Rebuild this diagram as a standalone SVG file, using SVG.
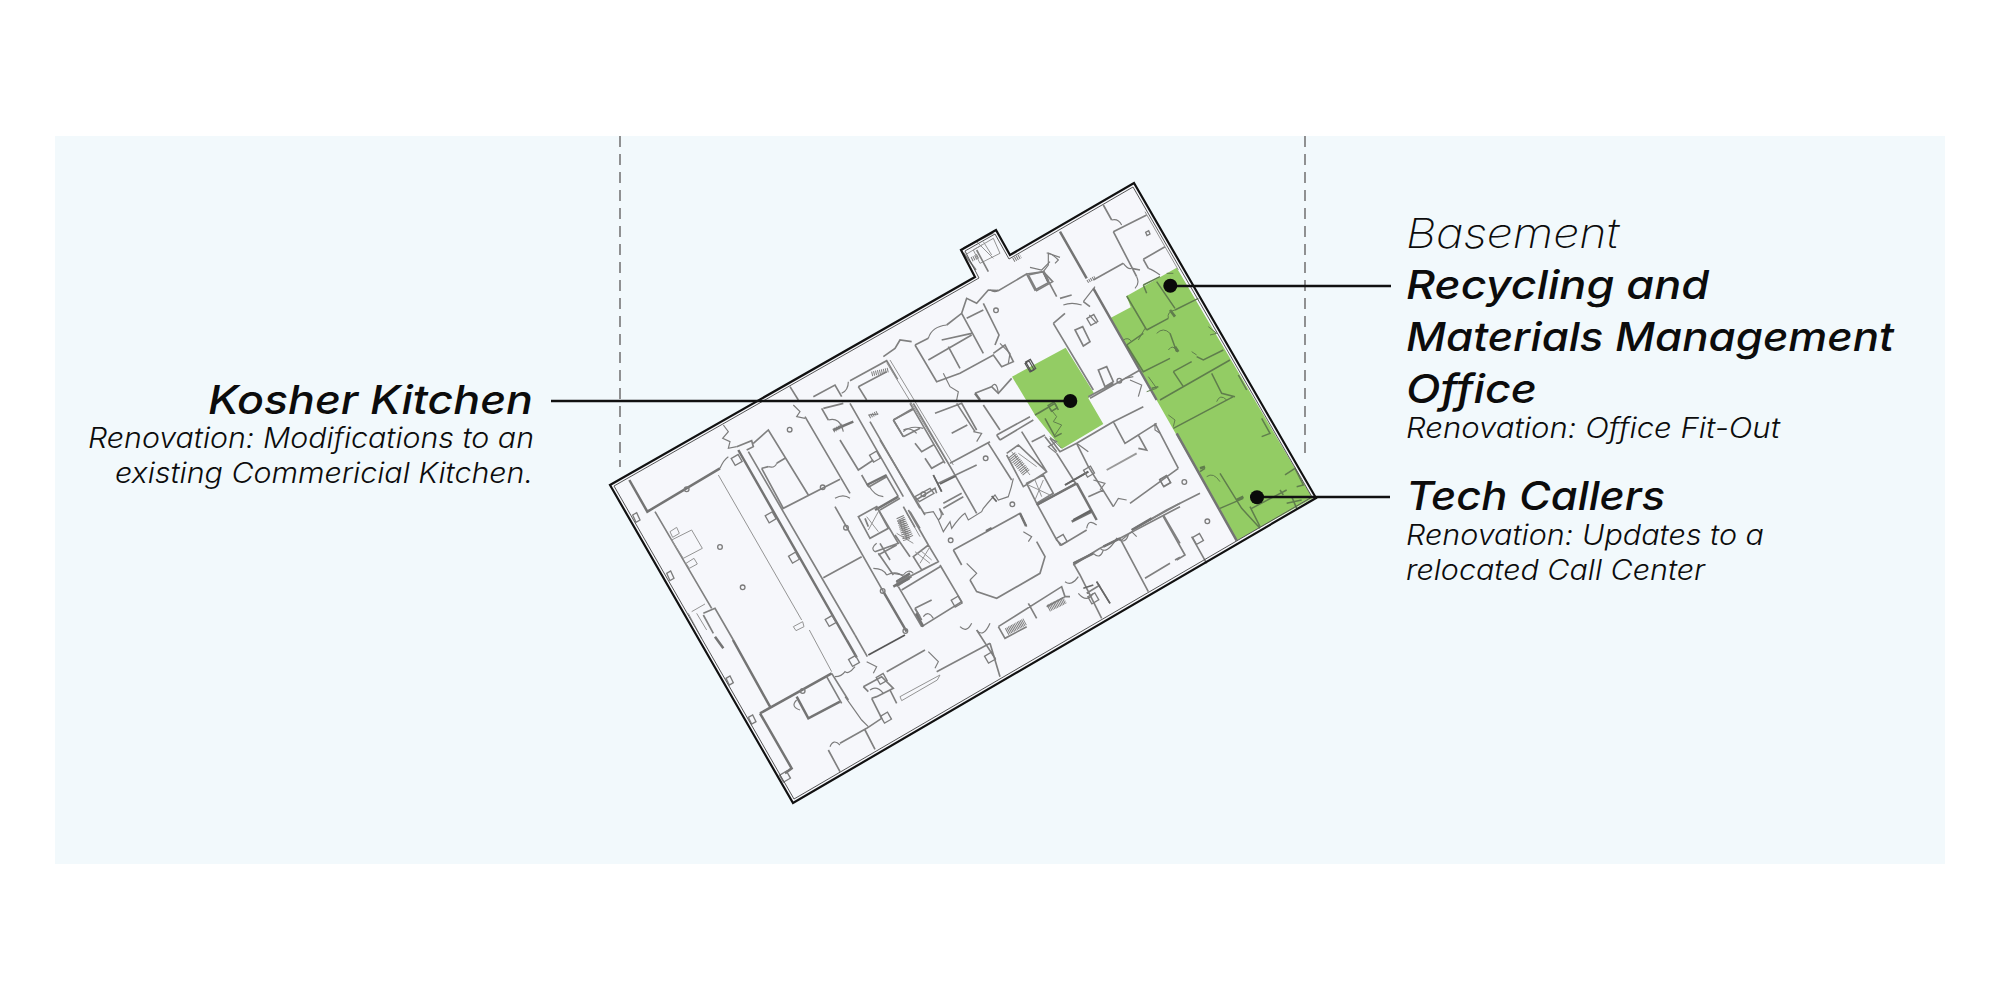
<svg xmlns="http://www.w3.org/2000/svg" width="2000" height="1000" viewBox="0 0 2000 1000">
<style>
.w{fill:none;stroke:#808080;stroke-width:5}
.k{fill:none;stroke:#747474;stroke-width:7.5}
.n{fill:none;stroke:#949494;stroke-width:3}
.d{fill:none;stroke:#7c7c7c;stroke-width:3.5}
.g{fill:none;stroke:#5f7d4c;stroke-width:4.5}
.h{fill:none;stroke:#7c7c7c;stroke-width:22;stroke-dasharray:3 3}
.b{fill:none;stroke:#555;stroke-width:5}
.m{fill:none;stroke:#7c7c7c;stroke-width:4}
.t{font-family:Inter,"Liberation Sans",sans-serif;font-style:italic;fill:#0c0c0c}
.h1{font-size:40px;font-weight:550}
.h2{font-size:28px;font-weight:300}
.h0{font-size:41px;font-weight:250}
.ldr{fill:none;stroke:#111;stroke-width:2.6}
.dot{fill:#0a0a0a}
.dash{fill:none;stroke:#777;stroke-width:1.6;stroke-dasharray:11 7}
</style>
<defs>
<circle id="c" r="7" class="m"/>
<rect id="s" x="-12" y="-12" width="24" height="24" transform="rotate(-30)" class="m"/>
</defs>
<rect id="panel" x="55" y="136" width="1890" height="728" fill="#f2f9fc"/>
<path class="dash" d="M620,136V467M1305,136V460"/>

<g id="plan">
<path id="floor" d="M610,485 L975,277 L961,250 L996,230 L1010,255 L1134,183 L1316,498 L793,803 Z" fill="#f6f7fb"/>
<g id="green-areas" fill="#93cc64" transform="translate(1000,170) scale(.33333)">
<path d="M530,293 L938,985 L710,1112 L330,445 L392,412 L380,378 Z"/>
<path d="M36,620 L197,533 L282,670 L265,685 L310,762 L186,836 L105,735 Z"/>
</g>

<!-- upper left part of the plan -->
<g transform="translate(600,170) scale(.33333)">
<path class="w" d="M750,632 L860,572 L893,628 M775,650 L800,690 M775,650 L860,605 M850,560 L885,535 L900,510 L935,515 M945,525 L985,505 M1040,465 L1085,430 L1100,385 L1130,400 L1165,360 L1195,362 L1280,312 L1305,360 L1345,338 L1330,305 L1280,312 M1150,400 L1197,495 L1185,525 M1085,430 L1150,550 M1100,445 L1150,420 M1025,510 L1115,490 M985,570 L1115,495 M1045,530 L1080,595 M945,525 L1010,635 L1080,610 L1180,555 L1205,590 L1240,575 L1215,525 L1180,550 M1125,670 L1175,650 L1195,670 L1235,625 M640,680 L705,645 L725,680 M570,650 L595,690"/>
<path class="d" d="M985,505 Q995,470 1040,465 M1030,610 L1050,650 L1075,665 L1070,690 M1330,305 L1345,285 L1345,250 L1380,262 M1170,360 Q1185,370 1195,360 M1175,650 Q1190,630 1195,670 M1200,520 L1230,550 L1225,580 M725,670 Q745,660 745,635"/>
<path class="k" d="M1330,305 L1345,335 M1125,670 L1140,690"/>
<path class="n" d="M860,578 L1050,890 M870,570 L1060,885 M1120,240 L1180,205 L1200,250 L1140,280 Z M1130,215 L1180,265 M1150,215 L1175,255 M1100,252 L1145,225"/>
<path class="w" d="M1090,235 L1180,188 M1090,248 L1128,300 M1130,240 L1165,305"/>
<path class="h" style="stroke-width:14" d="M1115,268 L1135,258 M1240,270 L1262,258 M815,612 L865,600"/>
<rect x="1282" y="574" width="14" height="30" class="b" style="stroke-width:3.5" transform="rotate(-30 1290 590)"/>
<use href="#c" x="1188" y="421"/>
</g>

<!-- upper right, mostly green wing -->
<g transform="translate(1000,170) scale(.33333)">
<path class="w" d="M310,105 L335,150 M340,185 L440,135 M340,185 L410,320 M430,268 L495,230 M430,268 L445,295 M280,330 L370,280 M395,295 L420,300"/>
<path class="d" d="M335,150 Q355,145 365,165 M370,280 Q385,300 395,295 M445,295 Q460,300 480,315 M410,320 Q420,340 405,355 M140,250 Q150,245 175,270 L165,280 M90,292 L125,300 L150,275"/>
<path class="k" d="M180,185 L260,325 M280,355 L470,690 M530,790 L710,1112"/>
<path class="n" d="M435,125 L535,300"/>
<path class="m" d="M437,187 L446,182 L450,192 L441,197 Z"/>
<path class="w" d="M85,315 L110,362 L158,335 L130,305 L85,315 M130,305 L170,380 M160,460 L195,430 M160,460 L280,660 M265,680 L340,640 M270,685 L420,600 M225,480 L248,470 L270,515 L250,528 Z M295,600 L320,590 L340,635 L315,650 Z M180,385 L215,375 M250,395 L270,410"/>
<path class="d" d="M190,405 Q215,395 245,405 M250,395 L285,350 M268,435 L290,460 M390,630 L425,645 L415,680 M375,625 L400,620"/>
<path class="h" style="stroke-width:10" d="M262,335 L285,322"/>
<use href="#s" x="277" y="450"/>
<use href="#c" x="358" y="632"/>
<path class="g" d="M380,378 L440,480 M430,345 L480,320 M470,335 L525,415 M440,480 L505,445 M525,420 L595,385 M380,525 L430,490 M380,525 L430,605 L510,565 M510,490 L530,545 M520,605 L550,650 M520,605 L575,575 M590,560 L610,570 L670,540 M480,690 L690,570 M635,610 L665,670 L705,680 M520,775 L700,680 M455,655 L475,650 M715,615 L740,660 M785,745 L810,790 L785,800 M600,905 L615,895 M660,910 L725,1015 L780,1075 M660,1015 L730,985 M750,1010 L780,1070 M755,1015 L860,960 M855,915 L885,895 L910,945 L890,950 M875,980 L890,1015 M840,960 L850,975 M860,1000 L905,990 M430,345 L440,370"/>
<path class="g" style="stroke-width:3" d="M505,445 Q500,425 525,420 M370,510 Q385,500 395,515 M415,510 L435,475 M470,490 Q490,470 510,490 M505,540 Q520,520 530,545 M575,545 L590,555 M625,470 L650,490 L630,495 M505,735 L525,750 L520,770 M620,920 Q640,905 660,935 M650,695 Q660,670 680,690 M500,310 L520,310 M445,620 L470,655 L440,665"/>
<path class="g" style="stroke-width:8" d="M510,420 L525,440 M525,530 L535,545 M600,895 L615,890 M710,990 L730,980"/>
<!-- kosher kitchen walls -->
<path class="g" d="M105,735 L165,700 M115,730 L165,700 M135,745 L165,800 L185,790 M165,700 L175,720"/>
<path class="g" style="stroke-width:3" d="M150,715 L170,740 L160,755 L185,765 L165,795 M150,800 L185,835"/>
<rect x="148" y="700" width="20" height="20" class="g" transform="rotate(-30 158 710)"/>
<rect x="84" y="570" width="16" height="32" class="b" style="stroke-width:4" transform="rotate(-30 92 586)"/>
<use href="#c" x="553" y="936"/>
<use href="#c" x="622" y="1054"/>
<use href="#s" x="496" y="934"/>
<use href="#s" x="594" y="1107"/>
<path class="w" d="M220,1185 L300,1135 M360,1105 L540,1010 M490,1040 L555,1155 L530,1170 M575,1100 L620,1180 M405,1075 L500,1020 M500,1020 L600,970"/>
<path class="d" d="M300,1135 Q320,1155 350,1105 Q375,1125 385,1095"/>
</g>

<!-- left wing -->
<g transform="translate(620,400) scale(.33333)">
<path class="k" d="M28,240 L82,335 L300,205 M355,150 L680,720"/>
<path class="w" d="M350,140 L395,122 L400,140 L380,150 M400,130 L445,90 L565,285 M385,155 L705,705 M425,205 L445,200 M425,205 L490,325 L660,238 M470,190 L495,175 M610,533 L725,470 M555,50 L690,280 M645,320 L790,575 M105,335 L275,625 M610,25 L670,10 M605,25 L625,60 M660,120 L715,210 L760,180 M690,10 L850,290 M750,65 L900,325 M725,225 L745,260 M745,262 L800,230 L835,290 M775,465 L830,435 M775,460 L820,525 M830,560 L875,530 M820,60 L880,25 M820,60 L850,110 M850,110 L900,85 M885,625 L900,650 M770,320 L835,430 L765,455 M250,640 L285,625 L340,720 M250,645 L280,700"/>
<path class="k" d="M640,90 L700,65 M790,575 L860,695 M740,255 L800,225 M830,545 L870,520 M765,330 L835,290 M820,560 L870,530"/>
<path class="n" d="M295,225 L545,660 M155,420 L215,390 L247,445 L190,475 Z M150,395 L170,382 L178,400 L158,412 Z M198,490 L222,475 L232,492 L208,505 Z M215,635 L255,612 M205,640 L245,715 M230,640 L260,690 M520,680 L548,665 L552,680 L528,692 Z"/>
<path class="d" d="M300,205 Q310,180 325,170 M310,75 L325,95 L308,115 L330,125 L325,145 L350,140 M445,200 Q465,205 470,190 M520,15 L540,35 L530,50 L555,55 M645,295 Q670,280 690,295 M625,60 Q660,50 670,95 M745,45 L775,42 M765,455 Q750,445 770,430 M760,505 Q790,505 800,525 M800,525 Q830,510 850,530 M850,90 Q870,80 890,100 M745,255 Q765,290 790,290"/>
<path class="h" style="stroke-width:12" d="M640,92 L668,76 M748,50 L772,38 M830,548 L862,530"/>
<path class="w" d="M715,350 L770,320 L805,385 L750,415 Z M735,355 L745,380"/>
<path class="n" d="M740,350 L775,395 M775,335 L745,390"/>
<path class="h" d="M842,360 L860,420"/>
<path class="n" d="M860,340 L900,410 M830,400 L880,430"/>
<path class="w" d="M850,320 L885,382 M870,335 L900,385"/>
<use href="#c" x="509" y="89"/><use href="#c" x="608" y="262"/><use href="#c" x="200" y="268"/><use href="#c" x="300" y="441"/><use href="#c" x="368" y="562"/><use href="#c" x="678" y="383"/><use href="#c" x="788" y="573"/><use href="#c" x="856" y="693"/>
<use href="#s" x="452" y="352"/><use href="#s" x="522" y="473"/><use href="#s" x="632" y="663"/><use href="#s" x="350" y="180"/><use href="#s" x="765" y="170"/>
<path class="m" d="M38,345 L50,338 L60,360 L48,367 Z M140,520 L152,513 L162,535 L150,542 Z"/>
</g>

<!-- central part -->
<g transform="translate(880,400) scale(.33333)">
<path class="w" d="M40,60 L100,28 M40,60 L70,110 M100,10 L205,190 M90,10 L195,190 M165,40 L245,10 L290,90 M230,10 L285,95 M215,100 L262,75 M105,130 L125,155 L160,135 M135,175 L155,205 L190,185 M210,190 L330,125 M350,105 L450,50 M360,120 L460,60 M350,105 L360,120 M310,15 L360,90 M160,225 L185,275 M175,250 L290,195 M205,190 L290,340 M325,130 L395,240 M0,120 L135,345 M108,300 L165,265 L170,280 M190,325 L250,290 M190,310 L245,280 M178,325 L190,345"/>
<path class="w" d="M380,160 L415,135 L500,215 M425,95 L500,215 L430,260 L380,165 M440,250 L490,225 L520,280 L470,310 Z M470,315 L590,250 M470,310 L530,420 L545,435 L620,390 M555,255 L625,215 M625,290 L670,270 M530,160 L590,255 M590,130 L625,200 L700,320 M510,115 L540,155 L590,130 M455,125 L495,105 M495,110 L530,155 M590,130 L700,65 L735,130 L775,105 M775,105 L800,150 L775,145 M700,65 L790,20 M735,130 L830,70 M895,205 L750,310 M825,70 L895,205 M220,450 L420,340 L440,380 M470,425 L495,470 L480,520 L350,595 L290,575 L270,540 M220,450 L245,495 M580,490 L640,460 M660,445 L720,415 L805,575 M755,390 L900,310 M850,345 L900,430 M795,535 L870,490 M885,480 L900,472 M580,490 L600,525 L665,655 M355,680 L545,560 L555,590 L500,620 M355,680 L375,715 L440,680 M445,610 L470,655 M555,590 L570,590 M650,545 L690,610 M620,580 L660,555 M85,330 L145,435 M45,405 L90,470 M65,570 L180,500 M50,550 L175,485 M180,495 L245,605 L125,680 M55,560 L125,680 M105,625 L155,600 M105,625 L125,660 M0,430 L30,480 M0,330 L60,295 M100,470 L145,435 L175,485 L125,510 Z"/>
<path class="k" d="M590,250 L650,360 M575,365 L635,335 M470,315 L590,250 M50,555 L88,535 M108,640 L130,680 M318,393 L335,384 M420,340 L438,378 M640,460 L580,490 M670,440 L720,415 M755,390 L815,355"/>
<path class="n" d="M680,210 L770,160" style="stroke-width:6;stroke:#999"/>
<path class="b" style="stroke:#666;stroke-width:6" d="M555,255 L625,215 M580,360 L635,330"/>
<path class="d" d="M130,340 L160,335 L175,360 L190,395 L210,365 L215,385 Q240,350 255,340 L265,360 L305,335 L310,325 Q335,295 345,285 L355,300 L385,290 Q395,260 400,235 M70,95 Q90,75 130,85 M280,95 L305,100 L290,125 M180,330 Q190,350 175,360 M430,395 L455,410 L445,425 M270,540 L290,520 L260,490 M640,460 Q660,480 670,450 M725,420 L755,395 L770,410 M620,385 Q625,355 650,375 M130,650 Q145,630 160,655 M640,240 L675,250 L660,270 M700,320 L715,295 L740,300 M510,115 L530,125 L505,140 L530,160 M590,130 L625,155 M555,545 Q575,560 595,530 M595,580 Q620,610 640,580 M825,70 L825,90 L840,100 M240,680 Q260,700 275,670 M290,690 Q310,715 330,670 M40,520 L70,525 Q85,505 100,520"/>
<path class="n" d="M465,240 L485,290 M445,255 L510,285 M490,240 L465,300 M120,450 L155,480 M105,455 L150,490 M120,490 L150,440 M395,155 L450,225 M415,160 L470,200"/>
<path class="h" style="stroke-width:26" d="M395,165 L440,220"/>
<path class="h" style="stroke-width:24" d="M60,350 L90,415"/>
<path class="h" style="stroke-dasharray:3 2" d="M505,625 L555,600 M380,695 L435,665"/>
<use href="#c" x="317" y="175"/><use href="#c" x="397" y="313"/><use href="#c" x="212" y="421"/><use href="#c" x="130" y="283"/>
<use href="#s" x="855" y="243"/><use href="#s" x="230" y="605"/><use href="#s" x="545" y="420"/><use href="#s" x="627" y="215"/><use href="#s" x="640" y="595"/>
<path class="b" style="stroke:#666" d="M160,225 L185,275 M180,252 L228,228 M335,288 L350,305 M610,565 L640,555 M650,545 L690,610"/>
<path class="m" d="M105,290 L150,265 L162,280 L118,305 Z"/>
</g>

<!-- lower part -->
<g transform="translate(600,480) scale(.33333)">
<path class="k" d="M740,480 L770,532 M480,700 L695,580 M480,700 L575,865 L555,880 M590,650 L625,715 L720,665 M399,480 L510,680 M345,470 L370,505"/>
<path class="w" d="M765,465 L802,530 M695,580 L745,660 M680,590 L725,670 M860,575 L975,510 M1010,575 L1170,490 M790,620 L845,590 L880,625 L830,650 L815,655 M790,620 L805,635 M815,655 L845,715 L800,745 M870,630 L890,670 M720,790 L800,745 M685,810 L720,875 M795,750 L825,808 M1170,490 L1200,590 M1130,450 L1185,535"/>
<path class="b" d="M805,525 L915,465"/>
<path class="n" d="M900,650 L1020,585 L1012,600 L905,662 Z M628,450 L695,575"/>
<path class="d" d="M590,660 Q570,680 600,690 M705,590 Q725,590 735,575 Q745,585 765,560 M800,545 L830,560 L820,580 M985,515 L1015,545 L1005,565 M735,650 L785,720 L805,740 M690,800 Q700,775 720,795 M810,630 Q830,615 850,640"/>
<use href="#c" x="608" y="633"/>
<use href="#s" x="762" y="543"/><use href="#s" x="845" y="597"/><use href="#s" x="858" y="713"/><use href="#s" x="1170" y="533"/><use href="#s" x="555" y="890"/>
<path class="m" d="M445,712 L458,705 L468,725 L455,732 Z M378,595 L390,588 L400,608 L388,615 Z"/>
</g>

<path id="inner-wall" d="M614,486 L979,278 L965,251 L995,234 L1009,259 L1133,187 L1312,497 L794,799 Z" fill="none" stroke="#555" stroke-width="1"/>
<path id="outer-wall" d="M610,485 L975,277 L961,250 L996,230 L1010,255 L1134,183 L1316,498 L793,803 Z" fill="none" stroke="#111" stroke-width="2.2"/>
</g>

<g id="connectors">
<path class="ldr" d="M551,401H1070M1170,286H1391M1257,497H1390"/>
<circle class="dot" cx="1070.3" cy="401" r="7"/>
<circle class="dot" cx="1170.3" cy="285.7" r="7"/>
<circle class="dot" cx="1257" cy="497.3" r="7"/>
</g>

<g id="kosher-kitchen">
<text class="t h1" x="208" y="414" textLength="325" lengthAdjust="spacingAndGlyphs">Kosher Kitchen</text>
<text class="t h2" x="88" y="448" textLength="446" lengthAdjust="spacingAndGlyphs">Renovation: Modifications to an</text>
<text class="t h2" x="115" y="483" textLength="418" lengthAdjust="spacingAndGlyphs">existing Commericial Kitchen.</text>
</g>
<g id="recycling">
<text class="t h0" x="1406" y="248" textLength="213" lengthAdjust="spacingAndGlyphs">Basement</text>
<text class="t h1" x="1406" y="299" textLength="303" lengthAdjust="spacingAndGlyphs">Recycling and</text>
<text class="t h1" x="1406" y="351" textLength="488" lengthAdjust="spacingAndGlyphs">Materials Management</text>
<text class="t h1" x="1406" y="403" textLength="131" lengthAdjust="spacingAndGlyphs">Office</text>
<text class="t h2" x="1406" y="438" textLength="374" lengthAdjust="spacingAndGlyphs">Renovation: Office Fit-Out</text>
</g>
<g id="tech-callers">
<text class="t h1" x="1406" y="510" textLength="259" lengthAdjust="spacingAndGlyphs">Tech Callers</text>
<text class="t h2" x="1406" y="545" textLength="358" lengthAdjust="spacingAndGlyphs">Renovation: Updates to a</text>
<text class="t h2" x="1406" y="580" textLength="299" lengthAdjust="spacingAndGlyphs">relocated Call Center</text>
</g>
</svg>
